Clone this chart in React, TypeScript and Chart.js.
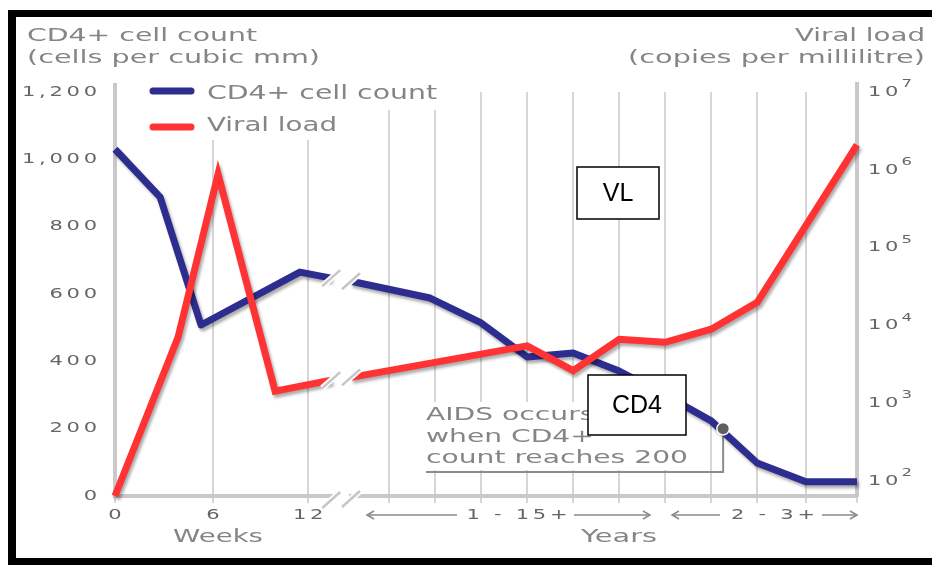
import React, { useEffect, useRef } from "react";
import { Chart, registerables } from "chart.js";

Chart.register(...registerables);

// ---------------- data ----------------
// x positions are in "grid units" (one unit = one yearly gridline step)
const GRID_X = [0, 2.13, 4.2, 5.96, 6.96, 7.96, 8.96, 9.96, 10.96, 11.96, 12.96, 13.96, 15.02, 16.13];
const GRID_LABELS = ["0", "6", "12", "", "", "", "", "", "", "", "", "", "", ""];

const CD4_X = [0, 0.98, 1.87, 4.02, 4.7, 4.9, 5.13, 6.85, 7.96, 8.96, 9.96, 10.96, 11.96, 12.96, 13.96, 15.02, 16.13];
const CD4_VALUES = [1030, 888, 508, 665, 647, null, 638, 588, 514, 413, 425, 371, 300, 223, 98, 42, 42];

const VL_X = [0, 1.37, 2.24, 3.48, 4.7, 4.9, 5.13, 8.96, 9.96, 10.96, 11.96, 12.96, 13.96, 16.13];
const VL_VALUES = [65, 7100, 883000, 1440, 2000, null, 2170, 5500, 2650, 6680, 6120, 9000, 19900, 2100000];

const CD4_TICKS = [0, 200, 400, 600, 800, 1000, 1200];
const VL_TICKS = [1e2, 1e3, 1e4, 1e5, 1e6, 1e7];
const VL_TICK_LABELS = ["10\u00B2", "10\u00B3", "10\u2074", "10\u2075", "10\u2076", "10\u2077"];

const AIDS_THRESHOLD = 200;
const AIDS_X = 13.22;

// ---------------- styles ----------------
const BLUE = "#2d2d8f";
const RED = "#ff3333";
const GRID_COLOR = "#d6d6d6";
const AXIS_COLOR = "#c9c9c9";
const TEXT_GRAY = "#858585";
const TICK_GRAY = "#666666";
const FAMILY = '"DejaVu Sans", Verdana, sans-serif';
const TICK_SX = 1.5;
const TICK_LS = 2.5;
const TICK_SIZE = 14;
const SUPERS: Record<string, string> = {
  "\u2070": "0", "\u00B9": "1", "\u00B2": "2", "\u00B3": "3", "\u2074": "4",
  "\u2075": "5", "\u2076": "6", "\u2077": "7", "\u2078": "8", "\u2079": "9",
};

const protoFill = CanvasRenderingContext2D.prototype.fillText;

function drawFit(
  ctx: CanvasRenderingContext2D,
  text: string,
  x: number,
  y: number,
  size: number,
  width: number | null,
  align: "left" | "right" | "center",
  color: string,
  family: string = FAMILY,
  sxFixed?: number
) {
  ctx.save();
  (ctx as any).letterSpacing = "0px";
  ctx.font = `${size}px ${family}`;
  const w = ctx.measureText(text).width;
  const sx = sxFixed !== undefined ? sxFixed : width ? width / w : 1;
  const tw = w * sx;
  const left = align === "right" ? x - tw : align === "center" ? x - tw / 2 : x;
  ctx.fillStyle = color;
  ctx.textBaseline = "middle";
  ctx.textAlign = "left";
  ctx.translate(left, y);
  ctx.scale(sx, 1);
  protoFill.call(ctx, text, 0, 0);
  ctx.restore();
  return sx;
}

function drawTickStyleText(ctx: CanvasRenderingContext2D, text: string, cx: number, cy: number, color: string) {
  ctx.save();
  ctx.font = `${TICK_SIZE}px ${FAMILY}`;
  (ctx as any).letterSpacing = TICK_LS + "px";
  ctx.fillStyle = color;
  ctx.textBaseline = "middle";
  ctx.textAlign = "center";
  ctx.translate(cx + (TICK_LS * TICK_SX) / 2, cy);
  ctx.scale(TICK_SX, 1);
  protoFill.call(ctx, text, 0, 0);
  ctx.restore();
}

function slash(ctx: CanvasRenderingContext2D, x: number, y: number) {
  ctx.save();
  ctx.lineCap = "butt";
  ctx.strokeStyle = "#ffffff";
  ctx.lineWidth = 6;
  ctx.beginPath();
  ctx.moveTo(x - 9, y + 8);
  ctx.lineTo(x + 9, y - 8);
  ctx.stroke();
  ctx.strokeStyle = "#c6c6c6";
  ctx.lineWidth = 2.5;
  ctx.beginPath();
  ctx.moveTo(x - 9, y + 8);
  ctx.lineTo(x + 9, y - 8);
  ctx.stroke();
  ctx.restore();
}

function arrow(ctx: CanvasRenderingContext2D, from: number, to: number, y: number) {
  ctx.save();
  ctx.strokeStyle = "#8a8a8a";
  ctx.lineWidth = 1.5;
  ctx.beginPath();
  ctx.moveTo(from, y);
  ctx.lineTo(to, y);
  ctx.stroke();
  const dir = to > from ? 1 : -1;
  ctx.beginPath();
  ctx.moveTo(to - dir * 7, y - 4);
  ctx.lineTo(to, y);
  ctx.lineTo(to - dir * 7, y + 4);
  ctx.stroke();
  ctx.restore();
}

// Tick label renderer: horizontally stretched glyphs, with exponent support
function tickFillText(this: CanvasRenderingContext2D, text: string, x: number, y: number) {
  const ctx = this;
  const last = text.charAt(text.length - 1);
  const exp = SUPERS[last];
  ctx.save();
  if (exp !== undefined) {
    const base = text.slice(0, -1);
    const bw = ctx.measureText(base).width - TICK_LS;
    ctx.textAlign = "left";
    ctx.translate(x, y);
    ctx.save();
    ctx.scale(TICK_SX, 1);
    protoFill.call(ctx, base, 0, 0);
    ctx.restore();
    ctx.font = `11px ${FAMILY}`;
    (ctx as any).letterSpacing = "0px";
    ctx.translate(bw * TICK_SX + 3, -8);
    ctx.scale(TICK_SX, 1);
    protoFill.call(ctx, exp, 0, 0);
  } else {
    let dx = 0;
    if (ctx.textAlign === "right" || ctx.textAlign === "end") dx = TICK_LS * TICK_SX;
    else if (ctx.textAlign === "center") dx = (TICK_LS * TICK_SX) / 2;
    ctx.translate(x + dx, y);
    ctx.scale(TICK_SX, 1);
    protoFill.call(ctx, text, 0, 0);
  }
  ctx.restore();
}

const decorPlugin = {
  id: "decor",
  beforeDraw(chart: any) {
    const ctx: CanvasRenderingContext2D = chart.ctx;
    ctx.save();
    ctx.fillStyle = "#ffffff";
    ctx.fillRect(0, 0, chart.width, chart.height);
    ctx.restore();
    (ctx as any).letterSpacing = TICK_LS + "px";
    (ctx as any).fillText = tickFillText;
  },
  beforeDatasetsDraw(chart: any) {
    const ctx: CanvasRenderingContext2D = chart.ctx;
    delete (ctx as any).fillText;
    (ctx as any).letterSpacing = "0px";
    const { left, right, top } = chart.chartArea;

    // axis lines extend a little above the plot
    ctx.save();
    ctx.strokeStyle = AXIS_COLOR;
    ctx.lineWidth = 4;
    ctx.beginPath();
    ctx.moveTo(left, top - 9);
    ctx.lineTo(left, top + 2);
    ctx.moveTo(right, top - 10);
    ctx.lineTo(right, top + 2);
    ctx.stroke();
    ctx.restore();

    // legend with white background
    ctx.save();
    ctx.fillStyle = "#ffffff";
    ctx.fillRect(140, 78, 305, 32);
    ctx.fillRect(140, 110, 205, 30);
    ctx.lineCap = "round";
    ctx.lineWidth = 7;
    ctx.strokeStyle = BLUE;
    ctx.beginPath();
    ctx.moveTo(153, 91);
    ctx.lineTo(191, 91);
    ctx.stroke();
    ctx.strokeStyle = RED;
    ctx.beginPath();
    ctx.moveTo(153, 127);
    ctx.lineTo(191, 127);
    ctx.stroke();
    ctx.restore();
    drawFit(ctx, "CD4+ cell count", 207, 94, 19, 230, "left", TEXT_GRAY);
    drawFit(ctx, "Viral load", 207, 126, 19, 130, "left", TEXT_GRAY);

    // AIDS annotation
    ctx.save();
    ctx.fillStyle = "#ffffff";
    ctx.fillRect(420, 402, 275, 68);
    ctx.restore();
    ctx.save();
    ctx.font = `18px ${FAMILY}`;
    const sx = 262 / ctx.measureText("count reaches 200").width;
    ctx.restore();
    drawFit(ctx, "AIDS occurs", 426, 415, 18, null, "left", TEXT_GRAY, FAMILY, sx);
    drawFit(ctx, "when CD4+", 426, 437, 18, null, "left", TEXT_GRAY, FAMILY, sx);
    drawFit(ctx, "count reaches 200", 426, 458, 18, null, "left", TEXT_GRAY, FAMILY, sx);
    const dx = chart.scales.x.getPixelForValue(AIDS_X);
    const dy = chart.scales.yL.getPixelForValue(AIDS_THRESHOLD);
    ctx.save();
    ctx.strokeStyle = "#8c8c8c";
    ctx.lineWidth = 2;
    ctx.beginPath();
    ctx.moveTo(426, 472);
    ctx.lineTo(dx, 472);
    ctx.lineTo(dx, dy);
    ctx.stroke();
    ctx.restore();
  },
  beforeDatasetDraw(chart: any) {
    const ctx = chart.ctx;
    ctx.save();
    ctx.shadowColor = "rgba(0,0,0,0.32)";
    ctx.shadowBlur = 3;
    ctx.shadowOffsetX = 2;
    ctx.shadowOffsetY = 3;
  },
  afterDatasetDraw(chart: any) {
    chart.ctx.restore();
  },
  afterDatasetsDraw(chart: any) {
    const ctx: CanvasRenderingContext2D = chart.ctx;
    // break marks on each line
    chart.data.datasets.forEach((ds: any, di: number) => {
      const meta = chart.getDatasetMeta(di);
      const gi = ds.data.findIndex((p: any) => p.y === null);
      if (gi > 0) {
        const a = meta.data[gi - 1];
        const b = meta.data[gi + 1];
        slash(ctx, a.x, a.y);
        slash(ctx, b.x, b.y);
      }
    });
    // break on axis
    const gi = CD4_VALUES.findIndex((v) => v === null);
    const xa = chart.scales.x.getPixelForValue(CD4_X[gi - 1]);
    const xb = chart.scales.x.getPixelForValue(CD4_X[gi + 1]);
    const bottom = chart.chartArea.bottom;
    ctx.save();
    ctx.fillStyle = "#ffffff";
    ctx.fillRect(xa + 2, bottom - 3, xb - xa - 4, 7);
    ctx.restore();
    slash(ctx, xa, bottom + 4);
    slash(ctx, xb, bottom + 3);

    // AIDS point
    const dx = chart.scales.x.getPixelForValue(AIDS_X);
    const dy = chart.scales.yL.getPixelForValue(AIDS_THRESHOLD);
    ctx.save();
    ctx.beginPath();
    ctx.arc(dx, dy, 5.5, 0, Math.PI * 2);
    ctx.lineWidth = 3;
    ctx.strokeStyle = "#ffffff";
    ctx.stroke();
    ctx.fillStyle = "#5f5f5f";
    ctx.fill();
    ctx.restore();
  },
  afterDraw(chart: any) {
    const ctx: CanvasRenderingContext2D = chart.ctx;
    delete (ctx as any).fillText;
    (ctx as any).letterSpacing = "0px";

    // axis titles
    drawFit(ctx, "CD4+ cell count", 27, 36, 18, 230, "left", TEXT_GRAY);
    drawFit(ctx, "(cells per cubic mm)", 27, 58, 18, 293, "left", TEXT_GRAY);
    drawFit(ctx, "Viral load", 925, 36, 18, 130, "right", TEXT_GRAY);
    drawFit(ctx, "(copies per millilitre)", 925, 58, 18, 297, "right", TEXT_GRAY);

    // x axis group labels
    drawFit(ctx, "Weeks", 218, 537, 18, 90, "center", TEXT_GRAY);
    drawFit(ctx, "Years", 619, 537, 18, 76, "center", TEXT_GRAY);

    const ay = 515;
    arrow(ctx, 457, 367, ay);
    drawTickStyleText(ctx, "1 - 15+", 517, ay, TICK_GRAY);
    arrow(ctx, 574, 650, ay);
    arrow(ctx, 720, 672, ay);
    drawTickStyleText(ctx, "2 - 3+", 773, ay, TICK_GRAY);
    arrow(ctx, 822, 857, ay);

    // boxes
    const box = (x: number, y: number, w: number, h: number, label: string) => {
      ctx.save();
      ctx.fillStyle = "#ffffff";
      ctx.fillRect(x, y, w, h);
      ctx.strokeStyle = "#000000";
      ctx.lineWidth = 1.5;
      ctx.strokeRect(x, y, w, h);
      ctx.restore();
      drawFit(ctx, label, x + w / 2, y + h / 2 + 1, 25, null, "center", "#000000", '"Liberation Sans", Arial, sans-serif');
    };
    box(577, 167, 82, 52, "VL");
    box(588, 375, 98, 60, "CD4");

    // frame
    ctx.save();
    ctx.fillStyle = "#000000";
    ctx.fillRect(8, 10, chart.width - 8, 7);
    ctx.fillRect(8, 10, 8, chart.height - 10);
    ctx.fillRect(8, chart.height - 7, chart.width - 8, 7);
    ctx.restore();
  },
};

export default function App() {
  const ref = useRef<HTMLCanvasElement>(null);
  useEffect(() => {
    const canvas = ref.current;
    if (!canvas) return;
    const tickFont = { family: FAMILY, size: TICK_SIZE };
    const chart = new Chart(canvas, {
      type: "line",
      data: {
        datasets: [
          {
            label: "Viral load",
            data: VL_X.map((x, i) => ({ x, y: VL_VALUES[i] })),
            yAxisID: "yR",
            borderColor: RED,
            borderWidth: 7,
            pointRadius: 0,
            tension: 0,
            spanGaps: false,
            borderCapStyle: "butt",
            borderJoinStyle: "miter",
            clip: false,
            order: 0,
          } as any,
          {
            label: "CD4+ cell count",
            data: CD4_X.map((x, i) => ({ x, y: CD4_VALUES[i] })),
            yAxisID: "yL",
            borderColor: BLUE,
            borderWidth: 7,
            pointRadius: 0,
            tension: 0,
            spanGaps: false,
            borderCapStyle: "butt",
            borderJoinStyle: "round",
            clip: false,
            order: 1,
          } as any,
        ],
      },
      options: {
        responsive: false,
        animation: false,
        events: [],
        layout: { padding: { top: 92, left: 0, right: 0, bottom: 0 } },
        plugins: { legend: { display: false }, tooltip: { enabled: false } },
        scales: {
          x: {
            type: "linear",
            min: GRID_X[0],
            max: GRID_X[GRID_X.length - 1],
            afterBuildTicks: (s: any) => {
              s.ticks = GRID_X.map((v) => ({ value: v }));
            },
            afterFit: (s: any) => {
              s.height = 69;
            },
            grid: { color: GRID_COLOR, lineWidth: 2, drawTicks: true, tickLength: 7, tickColor: GRID_COLOR },
            border: { display: true, color: AXIS_COLOR, width: 4 },
            ticks: {
              autoSkip: false,
              maxRotation: 0,
              padding: 4,
              color: TICK_GRAY,
              font: tickFont,
              callback: (_v: any, i: number) => GRID_LABELS[i],
            },
          },
          yL: {
            type: "linear",
            position: "left",
            min: 0,
            max: 1200,
            afterBuildTicks: (s: any) => {
              s.ticks = CD4_TICKS.map((v) => ({ value: v }));
            },
            afterFit: (s: any) => {
              s.width = 115;
            },
            grid: { display: false, drawTicks: false },
            border: { display: true, color: AXIS_COLOR, width: 4 },
            ticks: {
              padding: 18,
              color: TICK_GRAY,
              font: tickFont,
              callback: (v: any) => Number(v).toLocaleString("en-US"),
            },
          },
          yR: {
            type: "logarithmic",
            position: "right",
            min: 65,
            max: 1e7,
            afterBuildTicks: (s: any) => {
              s.ticks = VL_TICKS.map((v) => ({ value: v }));
            },
            afterFit: (s: any) => {
              s.width = 75;
            },
            grid: { display: false, drawTicks: false },
            border: { display: true, color: AXIS_COLOR, width: 4 },
            ticks: {
              padding: 11,
              color: TICK_GRAY,
              font: tickFont,
              callback: (_v: any, i: number) => VL_TICK_LABELS[i],
            },
          },
        },
      } as any,
      plugins: [decorPlugin as any],
    });
    return () => chart.destroy();
  }, []);
  return (
    <div style={{ position: "fixed", left: 0, top: 0, width: 932, height: 565, background: "#fff" }}>
      <canvas ref={ref} width={932} height={565} style={{ display: "block", width: 932, height: 565 }} />
    </div>
  );
}
